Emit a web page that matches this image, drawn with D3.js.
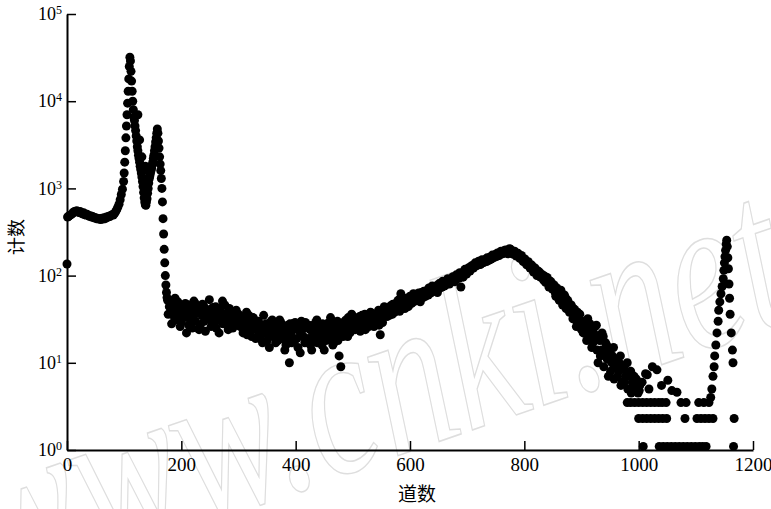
<!DOCTYPE html>
<html>
<head>
<meta charset="utf-8">
<script src="https://cdn.jsdelivr.net/npm/d3@7"></script>
<style>
  body { margin: 0; background: #fff; }
</style>
</head>
<body>
<svg id="chart" width="771" height="509"></svg>
<script>
// ---- data (channel = 道数, count = 计数) ----
var xTicks = [0, 200, 400, 600, 800, 1000, 1200];
var xTickLabels = ["0", "200", "400", "600", "800", "1000", "1200"];
var yTicks = [1, 10, 100, 1000, 10000, 100000];
var yTickExps = ["0", "1", "2", "3", "4", "5"];

var firstPt = [[0, 136]];

// channels 1..99, every 2nd channel
var plateauStart = 1, plateauStep = 2;
var plateauCounts = [470, 480, 490, 500, 510, 530, 545, 540, 555, 540,
                     530, 545, 520, 510, 525, 500, 495, 505, 490, 480,
                     485, 470, 475, 460, 465, 450, 455, 445, 450, 440,
                     455, 445, 460, 450, 470, 465, 480, 475, 490, 500,
                     495, 515, 540, 570, 610, 660, 740, 850, 980, 1200];

// channels 100..175, every channel (the two peaks)
var peakStart = 100, peakStep = 1;
var peakCounts = [1500, 2000, 2700, 3800, 5200, 7000, 9500, 13000, 18000, 25000,
                  32000, 29000, 22000, 17000, 13000, 10000, 8000, 6500, 6000, 5200,
                  4600, 4000, 3500, 3000, 2700, 2400, 2200, 2000, 1800, 1650,
                  1500, 1350, 1200, 1050, 900, 780, 700, 650, 640, 700,
                  760, 880, 1000, 1150, 1300, 1400, 1500, 1600, 1700, 1850,
                  2000, 2200, 2400, 2700, 3000, 3400, 3800, 4300, 4800, 4300,
                  3500, 2900, 2300, 1900, 1600, 1300, 1000, 700, 450, 300,
                  200, 140, 100, 78, 64, 56];
var peakExtra = [[124, 7000], [127, 3600], [131, 2300], [137, 1800], [141, 1600]];

// continuum, every 3rd channel, two interleaved readings
var bandStep = 3;
var bandAStart = 176;
var bandA = [52, 44, 38, 47, 33, 41, 50, 36, 29, 43,
             39, 22, 46, 34, 40, 31, 48, 37, 42, 27,
             35, 45, 23, 38, 33, 41, 29, 36, 44, 31,
             22, 39, 51, 34, 28, 37, 42, 30, 25, 35,
             40, 28];
var bandA2 = [36, 49, 28, 42, 55, 31, 39, 26, 45, 34,
              48, 33, 27, 44, 25, 51, 30, 41, 24, 38,
              47, 30, 40, 34, 53, 26, 43, 32, 25, 37,
              42, 30, 28, 46, 33, 24, 39, 27, 34, 29,
              32, 36];
var bandBStart = 302;
var bandB = [34, 27, 22, 31, 38, 25, 29, 20, 33, 26,
             24, 30, 19, 27, 35, 22, 18, 28, 25, 31,
             21, 17, 26, 23, 29, 19, 24, 16, 27, 10,
             22, 28, 18, 25, 15, 23, 30, 20, 17, 26,
             19, 24, 14, 27, 21, 31, 18, 23, 16, 25,
             22, 28, 19, 33, 24, 17, 26, 30, 12, 9,
             27, 23, 31, 20, 29, 25, 34];
var bandB2 = [26, 33, 24, 29, 21, 35, 23, 30, 27, 19,
              29, 21, 26, 17, 24, 28, 22, 15, 30, 20,
              25, 28, 18, 31, 20, 26, 14, 23, 19, 28,
              17, 24, 29, 19, 27, 13, 21, 25, 29, 18,
              27, 16, 23, 19, 29, 17, 25, 21, 28, 14,
              18, 24, 29, 20, 16, 27, 21, 18, 25, 23,
              20, 30, 24, 33, 22, 36, 26];
var bandCStart = 503;
var bandC = [31, 25, 29, 34, 26, 30, 36, 27, 33, 29,
             37, 31, 28, 35, 40, 21, 33, 38, 42, 34,
             39, 45, 36, 43, 48, 40, 47, 62, 44, 51,
             46, 53, 49, 57, 50, 55, 61, 52, 58, 64,
             56, 63, 67, 60, 70, 65, 73, 68, 77, 71,
             80, 74, 84, 78, 88, 82, 91, 86, 95, 90,
             100, 94, 74, 105, 112, 108];
var bandC2 = [24, 32, 27, 23, 35, 28, 24, 33, 26, 38,
              30, 26, 36, 30, 27, 39, 29, 44, 36, 40,
              35, 40, 47, 38, 42, 52, 39, 45, 53, 42,
              55, 44, 58, 48, 62, 51, 54, 63, 50, 57,
              66, 58, 62, 72, 63, 76, 66, 72, 64, 81,
              73, 86, 76, 82, 92, 80, 88, 97, 85, 102,
              93, 108, 99, 96, 118, 104];
var bandDStart = 701;
var bandD = [115, 124, 120, 131, 127, 138, 133, 142, 137, 148,
             152, 145, 158, 163, 156, 168, 174, 166, 180, 176,
             188, 182, 196, 185, 192, 200, 188, 183, 178, 170,
             166, 158, 152, 147, 140, 135, 128, 124, 118, 112,
             115, 104, 108, 97, 92, 98, 86, 81, 76, 82,
             70, 64, 72, 58, 62, 53, 49, 56, 44, 47,
             39, 43, 35, 31, 38, 27, 30];
var bandD2 = [122, 113, 130, 122, 140, 130, 146, 134, 152, 141,
              146, 160, 150, 154, 172, 161, 167, 182, 170, 190,
              178, 194, 184, 178, 203, 192, 176, 190, 168, 180,
              158, 170, 145, 155, 133, 144, 122, 132, 110, 122,
              100, 112, 96, 103, 88, 84, 95, 74, 86, 70,
              78, 58, 66, 52, 68, 46, 60, 42, 52, 38,
              46, 32, 41, 26, 34, 36, 24];
var bandEStart = 902;
var bandE = [29, 22, 25, 32, 20, 24, 17, 21, 27, 10,
             18, 14, 20, 12, 16, 7, 13, 10, 15, 9,
             11, 8, 12, 6, 9, 7, 10, 5, 8, 6,
             7, 5, 6, 4.8];
var bandE2 = [22, 30, 18, 23, 28, 15, 22, 26, 14, 19,
              12, 22, 9, 17, 11, 14, 8, 12, 6.5, 11,
              7, 10, 5.5, 9, 6, 8, 5, 7, 4.5, 6,
              5, 6.5, 4.5, 5.5];

var tailPts = [[1006, 6], [1012, 7.5], [1015, 7.3], [1018, 5], [1024, 9],
               [1032, 8.3], [1040, 5.5], [1051, 6.3], [1058, 4.8], [1067, 4.6]];

// low-count rows
var row3Val = 3.5, row2Val = 2.3, row1Val = 1.1;
var row3Ch = [980, 986, 993, 1000, 1007, 1014, 1021, 1028, 1035, 1041, 1048,
              1074, 1083, 1105, 1114, 1123];
var row2Ch = [1000, 1007, 1014, 1021, 1028, 1035, 1042, 1049, 1081,
              1102, 1109, 1116, 1123, 1130, 1167];
var row1Ch = [1008, 1036, 1043, 1050, 1057, 1064, 1071, 1078, 1085, 1092,
              1099, 1106, 1112, 1118, 1166];

// right-hand peak
var rightPeakPts = [[1126, 4], [1128, 5], [1130, 7], [1132, 9], [1133, 12],
                    [1135, 16], [1137, 22], [1139, 30], [1140, 40], [1142, 50],
                    [1144, 62], [1146, 75], [1148, 92], [1149, 115], [1150, 140],
                    [1151, 165], [1152, 195], [1153, 230], [1154, 255], [1155, 215],
                    [1156, 160], [1157, 120], [1158, 80], [1159, 55], [1160, 36],
                    [1162, 22], [1164, 14], [1165, 10]];

// ---- build point table ----
var points = [];
function addRun(start, step, counts) {
    counts.forEach(function (n, i) { points.push([start + i * step, n]); });
}
function addPairs(arr) {
    arr.forEach(function (d) { points.push(d); });
}
function addRow(chs, n) {
    chs.forEach(function (c) { points.push([c, n]); });
}
addPairs(firstPt);
addRun(plateauStart, plateauStep, plateauCounts);
addRun(peakStart, peakStep, peakCounts);
addPairs(peakExtra);
addRun(bandAStart, bandStep, bandA);
addRun(bandAStart + 1, bandStep, bandA2);
addRun(bandBStart, bandStep, bandB);
addRun(bandBStart + 1, bandStep, bandB2);
addRun(bandCStart, bandStep, bandC);
addRun(bandCStart + 1, bandStep, bandC2);
addRun(bandDStart, bandStep, bandD);
addRun(bandDStart + 1, bandStep, bandD2);
addRun(bandEStart, bandStep, bandE);
addRun(bandEStart + 1, bandStep, bandE2);
addPairs(tailPts);
addRow(row3Ch, row3Val);
addRow(row2Ch, row2Val);
addRow(row1Ch, row1Val);
addPairs(rightPeakPts);

// ---- drawing ----
var svg = d3.select("#chart");
var serif = "Liberation Serif, DejaVu Serif, serif";
var cjk = "Noto Sans CJK SC, sans-serif";

var x = d3.scaleLinear().domain([0, 1200]).range([67, 753]);
var y = d3.scaleLog().domain([1, 1e5]).range([450, 14]);

// faint watermark of the scanned source
svg.append("text")
    .attr("transform", "translate(-4,594) rotate(-19) scale(1,1.4)")
    .attr("font-family", serif)
    .attr("font-style", "italic")
    .attr("font-size", 160)
    .attr("fill", "none")
    .attr("stroke", "#dedede")
    .attr("stroke-width", 1.1)
    .text("www.cnki.net");

// y axis
var yg = svg.append("g")
    .attr("transform", "translate(67,0)")
    .call(d3.axisLeft(y)
        .tickValues(yTicks)
        .tickSize(-9)
        .tickSizeOuter(0)
        .tickPadding(5)
        .tickFormat(""));
yg.select(".domain").attr("stroke-width", 2);
yg.selectAll(".tick line").attr("stroke-width", 1.5);
yg.selectAll(".tick text")
    .attr("font-family", serif)
    .attr("font-size", 18)
    .attr("fill", "#000")
    .each(function (d, i) {
        var t = d3.select(this);
        t.append("tspan").text("10");
        t.append("tspan").attr("dy", "-0.5em").attr("font-size", 12).text(yTickExps[i]);
    });

// x axis
var xg = svg.append("g")
    .attr("transform", "translate(0,450)")
    .call(d3.axisBottom(x)
        .tickValues(xTicks)
        .tickSize(-9)
        .tickSizeOuter(0)
        .tickPadding(8)
        .tickFormat(function (d, i) { return xTickLabels[i]; }));
xg.select(".domain").attr("stroke-width", 2);
xg.selectAll(".tick line").attr("stroke-width", 1.5);
xg.selectAll(".tick text")
    .attr("font-family", serif)
    .attr("font-size", 19)
    .attr("fill", "#000");

// data dots
svg.append("g")
    .selectAll("circle")
    .data(points)
    .enter().append("circle")
    .attr("cx", function (d) { return x(d[0]); })
    .attr("cy", function (d) { return y(d[1]); })
    .attr("r", 4.5)
    .attr("fill", "#000");

// axis titles
svg.append("text")
    .attr("transform", "translate(17,237) rotate(-90)")
    .attr("dy", "0.35em")
    .attr("text-anchor", "middle")
    .attr("font-family", cjk)
    .attr("font-size", 18)
    .text("计数");

svg.append("text")
    .attr("x", 417)
    .attr("y", 501)
    .attr("text-anchor", "middle")
    .attr("font-family", cjk)
    .attr("font-size", 19)
    .text("道数");
</script>
</body>
</html>
